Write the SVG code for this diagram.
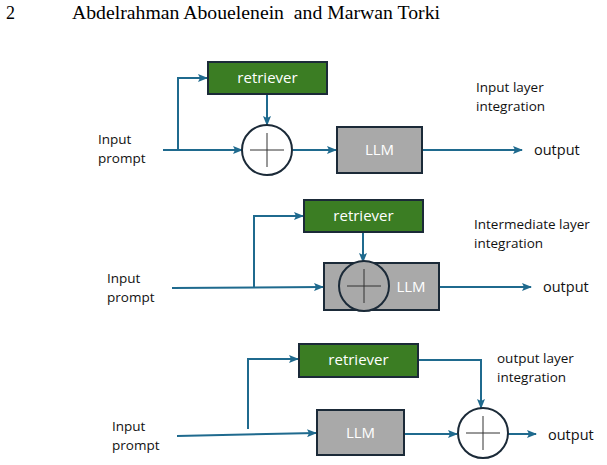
<svg xmlns="http://www.w3.org/2000/svg" width="607" height="465" viewBox="0 0 607 465">
<defs>
<marker id="ah" markerWidth="10" markerHeight="8" refX="9" refY="4" orient="auto" markerUnits="userSpaceOnUse">
<path d="M0,0 L10,4 L0,8 L2,4 Z" fill="#1f6a8e"/>
</marker>
</defs>
<style>
.hdr{font-family:"Liberation Serif",serif;font-size:18px;fill:#000}
.lbl{font-family:"Open Sans","Noto Sans",sans-serif;font-size:13.5px;fill:#111}
.out{font-family:"Open Sans","Noto Sans",sans-serif;font-size:14.5px;fill:#111}
.ret{fill:#3b7d23;stroke:#1b2a38;stroke-width:2}
.llm{fill:#a9a9a9;stroke:#1b2a38;stroke-width:2}
.btxt{font-family:"Open Sans","Noto Sans",sans-serif;font-size:15px;fill:#fff;text-anchor:middle}
.sum{fill:#fff;stroke:#1b2a38;stroke-width:2}
.cross{stroke:#333;stroke-width:1}
.ca{fill:none;stroke:#1f6a8e;stroke-width:2;marker-end:url(#ah)}
</style>
<rect width="607" height="465" fill="#fff"/>
<text class="hdr" x="6" y="19">2</text>
<text class="hdr" x="72" y="19" textLength="368" lengthAdjust="spacingAndGlyphs" xml:space="preserve">Abdelrahman Abouelenein  and Marwan Torki</text>

<g id="connectors">
<path class="ca" d="M163,150 L242,150"/>
<path class="ca" d="M178,150 L178,78 L207,78"/>
<path class="ca" d="M267,94 L267,125"/>
<path class="ca" d="M293,150 L336,150"/>
<path class="ca" d="M422,150 L522,150"/>
<path class="ca" d="M172,288 L323,287"/>
<path class="ca" d="M254,288 L254,216 L303,216"/>
<path class="ca" d="M363,233 L363,262"/>
<path class="ca" d="M440,287 L531,287"/>
<path class="ca" d="M177,436 L316,433"/>
<path class="ca" d="M248,429 L248,359 L298,359"/>
<path class="ca" d="M419,360 L481,360 L481,408"/>
<path class="ca" d="M405,434 L457,434"/>
<path class="ca" d="M508,434 L536,434"/>
</g>

<g id="p1-input"><text class="lbl" x="98" y="144">Input</text><text class="lbl" x="98" y="163">prompt</text></g>
<g id="p1-retriever"><rect class="ret" x="208" y="62" width="119" height="32"/><text class="btxt" x="267.5" y="83">retriever</text></g>
<g id="p1-sum"><circle class="sum" cx="267" cy="150" r="25"/><path class="cross" d="M250,150 H284 M267,133 V167"/></g>
<g id="p1-llm"><rect class="llm" x="337" y="127" width="85" height="46"/><text class="btxt" x="379.5" y="155">LLM</text></g>
<g id="p1-output"><text class="out" x="534" y="155">output</text></g>
<g id="p1-title"><text class="lbl" x="476" y="92">Input layer</text><text class="lbl" x="476" y="111">integration</text></g>

<g id="p2-input"><text class="lbl" x="107" y="283">Input</text><text class="lbl" x="107" y="302">prompt</text></g>
<g id="p2-retriever"><rect class="ret" x="304" y="200" width="119" height="32"/><text class="btxt" x="363.5" y="221">retriever</text></g>
<g id="p2-llm"><rect class="llm" x="324" y="263" width="115" height="47"/><circle class="llm" cx="364" cy="286" r="25"/><path class="cross" d="M347,286 H381 M364,269 V303"/><text class="btxt" x="411" y="292">LLM</text></g>
<g id="p2-output"><text class="out" x="543" y="292">output</text></g>
<g id="p2-title"><text class="lbl" x="474" y="229">Intermediate layer</text><text class="lbl" x="474" y="248">integration</text></g>

<g id="p3-input"><text class="lbl" x="112" y="431">Input</text><text class="lbl" x="112" y="450">prompt</text></g>
<g id="p3-retriever"><rect class="ret" x="299" y="344" width="119" height="33"/><text class="btxt" x="358.5" y="365">retriever</text></g>
<g id="p3-llm"><rect class="llm" x="317" y="410" width="87" height="45"/><text class="btxt" x="360.5" y="438">LLM</text></g>
<g id="p3-sum"><circle class="sum" cx="483" cy="433" r="25"/><path class="cross" d="M466,433 H500 M483,416 V450"/></g>
<g id="p3-output"><text class="out" x="548" y="440">output</text></g>
<g id="p3-title"><text class="lbl" x="497" y="363">output layer</text><text class="lbl" x="497" y="382">integration</text></g>
</svg>
